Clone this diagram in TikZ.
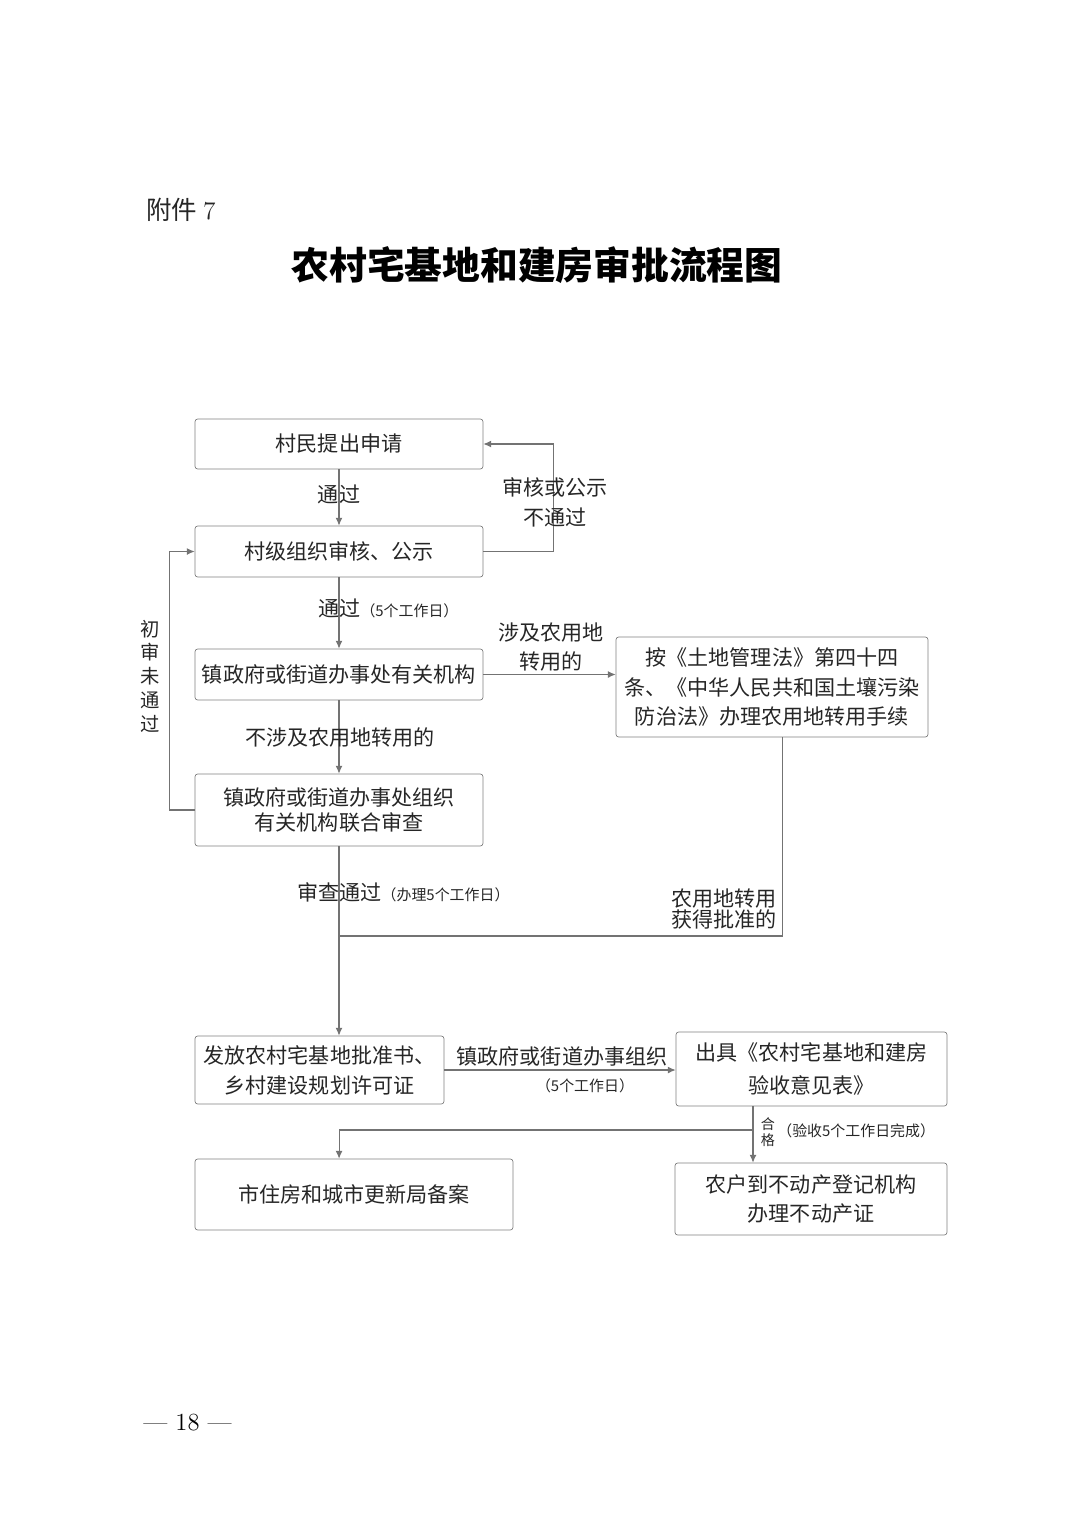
\documentclass[tikz,border=0pt]{standalone}
\usepackage{fontspec}
\usepackage{tikz}
\usetikzlibrary{arrows.meta}
\newfontfamily\cjk{Noto Sans CJK SC}
\newcommand{\smalltxt}[1]{{\fontsize{8.5}{10}\selectfont #1}}

\begin{document}
\begin{tikzpicture}[x=0.02cm,y=-0.02cm,
  box/.style={draw=black!50,rounded corners=1.5pt,inner sep=0pt,align=center,text=black!85,font=\cjk\fontsize{12}{17}\selectfont},
  lbl/.style={inner sep=0pt,align=center,text=black!85,font=\cjk\fontsize{12}{17}\selectfont},
  small/.style={font=\cjk\fontsize{8.5}{10}\selectfont},
  conn/.style={draw=black!55,line width=0.6pt},
  arr/.style={conn,-{Latex[length=4.5pt,width=4pt]}}]
  \useasboundingbox (0,0) rectangle (1074,1520);

  \node[lbl,anchor=west,font=\cjk\fontsize{14.5}{16}\selectfont] at(146,210)(attach){附件 {\rmfamily 7}};
  \node[lbl,text=black,font=\cjk\bfseries\fontsize{21.5}{24}\selectfont] at(537,265)(title){农村宅基地和建房审批流程图};

  \node[box,minimum width=5.76cm,minimum height=1cm] at(339,444)(apply){村民提出申请};
  \node[box,minimum width=5.76cm,minimum height=1.02cm] at(339,551.5)(village){村级组织审核、公示};
  \node[box,minimum width=5.76cm,minimum height=1.02cm] at(339,674.5)(town){镇政府或街道办事处有关机构};
  \node[box,minimum width=6.24cm,minimum height=2cm] at(772,687)(landlaw){按《土地管理法》第四十四\\条、《中华人民共和国土壤污染\\防治法》办理农用地转用手续};
  \node[box,minimum width=5.76cm,minimum height=1.44cm,font=\cjk\fontsize{12}{14}\selectfont] at(339,810)(joint){镇政府或街道办事处组织\\有关机构联合审查};
  \node[box,minimum width=4.98cm,minimum height=1.36cm] at(319.5,1070)(permit){发放农村宅基地批准书、\\乡村建设规划许可证};
  \node[box,minimum width=5.42cm,minimum height=1.48cm,font=\cjk\fontsize{12}{18.5}\selectfont] at(811.5,1069)(accept){出具《农村宅基地和建房\\验收意见表》};
  \node[box,minimum width=6.36cm,minimum height=1.42cm] at(354,1194.5)(record){市住房和城市更新局备案};
  \node[box,minimum width=5.44cm,minimum height=1.44cm] at(811,1199)(property){农户到不动产登记机构\\办理不动产证};

  % upper part
  \draw[arr](apply.south)--(village.north);
  \node[lbl] at(339,494)(pass1){通过};
  \draw[arr](village.east)--++(70,0)|-(apply.east);
  \node[lbl] at(555,502)(fail1){审核或公示\\不通过};
  \draw[arr](village.south)--(town.north);
  \node[lbl,anchor=west] at(318,608)(pass2){通过\smalltxt{（5个工作日）}};
  \draw[arr](town.east)--(town.east-|landlaw.west);
  \node[lbl] at(551,647)(convert){涉及农用地\\转用的};
  \draw[arr](town.south)--(joint.north);
  \node[lbl] at(340,737)(noconvert){不涉及农用地转用的};
  \draw[arr](joint.west)--++(-25,0)|-(village.west);
  \node[lbl,font=\cjk\fontsize{11}{13.5}\selectfont] at(150,676)(reject){初\\审\\未\\通\\过};

  % merge
  \coordinate(merge) at(339,936);
  \draw[arr](joint.south)--(joint.south|-permit.north);
  \draw[conn]([xshift=6pt]landlaw.south)|-(merge);
  \node[lbl,anchor=west] at(297,892)(passjoint){审查通过\smalltxt{（办理5个工作日）}};
  \node[lbl,font=\cjk\fontsize{12}{12.5}\selectfont] at(724,909)(approved){农用地转用\\获得批准的};

  % lower part
  \draw[arr](permit.east)--(permit.east-|accept.west);
  \node[lbl] at(562,1056)(organize){镇政府或街道办事组织};
  \node[lbl,small] at(585,1086)(days){（5个工作日）};
  \coordinate(split) at(753,1130);
  \draw[conn](split|-accept.south)--(split);
  \draw[arr](split)--(split|-property.north);
  \draw[arr](split)-|([xshift=-8.5pt]record.north);
  \node[lbl,font=\cjk\fontsize{8}{9}\selectfont] at(768,1132)(ok){合\\格};
  \node[lbl,small,anchor=west] at(777,1131)(check){（验收5个工作日完成）};

  \node[anchor=west,inner sep=0pt,font=\fontsize{14}{16}\selectfont] at(143,1423)(page){--- 18 ---};
\end{tikzpicture}
\end{document}
